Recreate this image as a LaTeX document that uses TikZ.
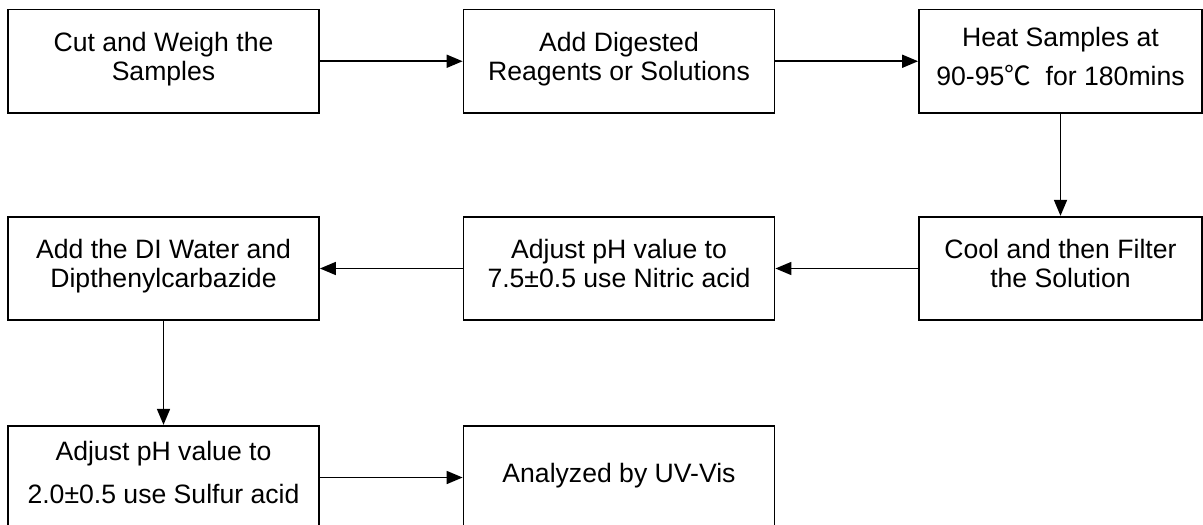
\documentclass[tikz,border=0pt]{standalone}
\usepackage{fontspec}
\setmainfont{Liberation Sans}
\newfontfamily\cjk{Noto Sans CJK SC}
\usetikzlibrary{arrows.meta}
\tikzset{>={Triangle[length=8pt,width=6.5pt]}}
\tikzstyle{stepbox}=[draw,line width=0.9pt,minimum height=51.75pt,inner sep=0pt,
	align=center,text depth=5pt,font=\fontsize{13.3}{14.3}\selectfont]
\tikzstyle{flowarr}=[->,line width=0.85pt]

\begin{document}
\begin{tikzpicture}[x=0.5pt,y=-0.5pt]
	
	\def\W{1203}      % picture width
	\def\H{524}       % picture height
	\def\wa{311}      % width of left and middle boxes
	\def\wb{283}      % width of right boxes
	\clip (0,0) rectangle (\W,\H);
	
	% BOXES
	\node[stepbox,minimum width=\wa*0.5pt] (C) at (163.5,61.25) {Cut and Weigh the\\Samples};
	\node[stepbox,minimum width=\wa*0.5pt] (D) at (619,61.25) {Add Digested\\Reagents or Solutions};
	\node[stepbox,minimum width=\wb*0.5pt] (Ht) at (1060.5,61.25) {Heat Samples at\\[5pt]90-95{\cjk ℃}\ \ for 180mins};
	\node[stepbox,minimum width=\wb*0.5pt] (F) at (1060.5,268.5) {Cool and then Filter\\the Solution};
	\node[stepbox,minimum width=\wa*0.5pt] (N) at (619,268.5) {Adjust pH value to\\7.5\textpm0.5 use Nitric acid};
	\node[stepbox,minimum width=\wa*0.5pt] (W) at (163.5,268.5) {Add the DI Water and\\Dipthenylcarbazide};
	\node[stepbox,minimum width=\wa*0.5pt] (S) at (163.5,477.5) {Adjust pH value to\\[7pt]2.0\textpm0.5 use Sulfur acid};
	\node[stepbox,minimum width=\wa*0.5pt] (U) at (619,477.5) {Analyzed by UV-Vis};
	
	% ARROWS
	\draw[flowarr] (C) -- (D);
	\draw[flowarr] (D) -- (Ht);
	\draw[flowarr] (Ht) -- (F);
	\draw[flowarr] (F) -- (N);
	\draw[flowarr] (N) -- (W);
	\draw[flowarr] (W) -- (S);
	\draw[flowarr] (S) -- (U);
	
\end{tikzpicture}
\end{document}
